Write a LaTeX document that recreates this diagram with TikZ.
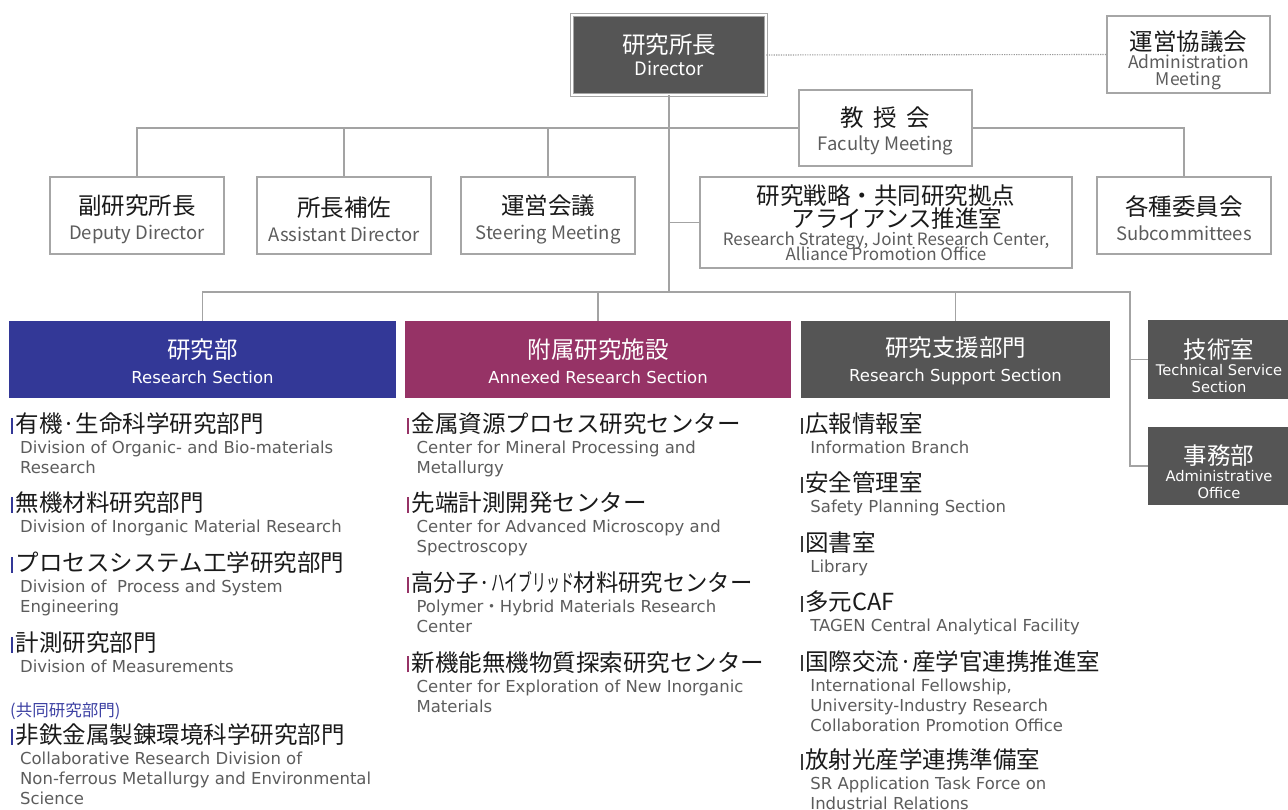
\documentclass[tikz,border=0pt]{standalone}
\usepackage{graphicx}
\usepackage{fontspec}
\setmainfont{Noto Sans CJK JP}
\newfontfamily\jpfont{Noto Sans CJK JP}
\newfontfamily\enfont{DejaVu Sans}

\definecolor{lineGray}{HTML}{A3A3A3}
\definecolor{boxGray}{HTML}{A6A6A6}
\definecolor{darkFill}{HTML}{555555}
\definecolor{rsBlue}{HTML}{333897}
\definecolor{arsMagenta}{HTML}{963366}
\definecolor{spBar}{HTML}{3A3A3A}
\definecolor{enGray}{HTML}{5C5C5C}
\definecolor{titleBlack}{HTML}{1A1A1A}
\definecolor{labelBlue}{HTML}{3D41A3}

\newcommand{\tightlines}{\lineskiplimit-20pt\relax}
\newcommand{\jpbig}[1]{{\jpfont\fontsize{23.5}{25}\selectfont #1}}
\newcommand{\topjp}[1]{\textcolor{titleBlack}{\jpbig{#1}}}
\newcommand{\itemhead}[3]{\rule{0pt}{22pt}\textcolor{#1}{\rule[-1pt]{#2}{16pt}}\hspace{2.3pt}\textcolor{titleBlack}{\jpbig{#3}}}

\tikzset{
  orgline/.style={draw=lineGray, line width=1.4pt},
  topbox/.style={draw=boxGray, line width=1.3pt, fill=white, inner sep=0pt,
    minimum width=174pt, minimum height=77pt, align=center, text=enGray,
    font=\fontsize{18.5}{25}\selectfont\tightlines},
  secbox/.style={fill=#1, inner sep=0pt, minimum height=77pt, align=center,
    text=white, font=\enfont\fontsize{16.5}{25}\selectfont},
  sidebox/.style={fill=darkFill, inner sep=0pt, minimum width=142pt,
    minimum height=78pt, align=center, text=white,
    font=\enfont\fontsize{14.7}{17}\selectfont\tightlines},
  listitem/.style={anchor=north west, inner sep=0pt, align=left, text=enGray,
    font=\enfont\fontsize{16.5}{20}\selectfont\tightlines},
}

\begin{document}
\begin{tikzpicture}[x=1pt,y=-1pt]
  \useasboundingbox (0,0) rectangle (1288,810);

  % top level
  \node[topbox, fill=darkFill, draw=boxGray, double=white, double distance=1.6pt,
    line width=0.9pt, minimum width=194pt, minimum height=80pt, text=white,
    font=\fontsize{18.5}{22}\selectfont\tightlines] (director) at (669,55)
    {\jpbig{研究所長}\\Director};
  \node[topbox, minimum width=163pt, font=\fontsize{17.5}{17.5}\selectfont\tightlines]
    (adminmtg) at (1188.5,54.5) {\rule{0pt}{32pt}\topjp{運営協議会}\\Administration\\Meeting};
  \node[topbox, minimum width=173pt, minimum height=76pt,
    font=\fontsize{18.5}{24}\selectfont] (faculty) at (885.5,128)
    {\rule{0pt}{26.5pt}\topjp{教\hspace{9.5pt}授\hspace{9.5pt}会}\\Faculty Meeting};

  % second row
  \node[topbox] (deputy) at (137,215.5) {\rule{0pt}{27pt}\topjp{副研究所長}\\Deputy Director};
  \node[topbox] (assistant) at (344,215.5) {\rule{0pt}{27pt}\topjp{所長補佐}\\Assistant Director};
  \node[topbox] (steering) at (548,215.5) {\rule{0pt}{27pt}\topjp{運営会議}\\Steering Meeting};
  \node[topbox, minimum width=372pt, minimum height=91pt,
    font=\fontsize{17}{15}\selectfont\tightlines] (strategy) at (886,222.5)
    {\topjp{研究戦略・共同研究拠点}\\[8pt]\hspace*{22pt}\topjp{アライアンス推進室}\\[3pt]
     Research Strategy, Joint Research Center,\hspace*{28pt}\\Alliance Promotion Office};
  \node[topbox] (subcomm) at (1184,215.5) {\rule{0pt}{25pt}\topjp{各種委員会}\\Subcommittees};

  % sections
  \node[secbox=rsBlue, minimum width=387pt] (research) at (202.5,359.5)
    {\rule{0pt}{23pt}\jpbig{研究部}\\Research Section};
  \node[secbox=arsMagenta, minimum width=386pt] (annexed) at (598,359.5)
    {\rule{0pt}{23pt}\jpbig{附属研究施設}\\Annexed Research Section};
  \node[secbox=darkFill, minimum width=309pt] (support) at (955.5,359.5)
    {\rule{0pt}{23pt}\jpbig{研究支援部門}\\Research Support Section};
  \node[sidebox] (technical) at (1219,359.5)
    {\rule{0pt}{33pt}\jpbig{技術室}\\Technical Service\\Section};
  \node[sidebox] (office) at (1219,466)
    {\rule{0pt}{31pt}\jpbig{事務部}\\Administrative\\Office};

  % connectors
  \coordinate (lowbus) at (669,292);
  \coordinate (sidebus) at (1130,292);
  \draw[draw=gray!80, line width=1.1pt, dash pattern=on 1.2pt off 1.2pt]
    (director.east) -- (adminmtg.west);
  \draw[orgline] (director.south) -- (lowbus);
  \draw[orgline] (deputy.north) |- (faculty.west);
  \draw[orgline] (subcomm.north) |- (faculty.east);
  \draw[orgline] (assistant.north) -- (assistant.north |- faculty.west);
  \draw[orgline] (steering.north) -- (steering.north |- faculty.west);
  \draw[orgline] (strategy.west) -- (strategy.west -| lowbus);
  \draw[orgline] (research.north) |- (sidebus) |- (office.west);
  \draw[orgline] (annexed.north) -- (annexed.north |- lowbus);
  \draw[orgline] (support.north) -- (support.north |- lowbus);
  \draw[orgline] (technical.west) -- (technical.west -| sidebus);

  % research section list
  \node[listitem] (rs1) at (10.8,410.5)
    {\itemhead{rsBlue}{2.4pt}{有機·生命科学研究部門}\\[1pt]
     \hspace*{9.1pt}Division of Organic- and Bio-materials\\
     \hspace*{9.1pt}Research};
  \node[listitem] (rs2) at (10.8,489.7)
    {\itemhead{rsBlue}{2.4pt}{無機材料研究部門}\\[1pt]
     \hspace*{9.1pt}Division of Inorganic Material Research};
  \node[listitem] (rs3) at (10.8,549.7)
    {\itemhead{rsBlue}{2.4pt}{プロセスシステム工学研究部門}\\[1pt]
     \hspace*{9.1pt}Division of \ Process and System\\
     \hspace*{9.1pt}Engineering};
  \node[listitem] (rs4) at (10.8,629.4)
    {\itemhead{rsBlue}{2.4pt}{計測研究部門}\\[1pt]
     \hspace*{9.1pt}Division of Measurements};
  \node[anchor=base west, inner sep=0pt, text=labelBlue,
    font=\fontsize{16.5}{20}\selectfont] (jointlabel) at (10,716.5) {(共同研究部門)};
  \node[listitem] (rs5) at (10.8,721.5)
    {\itemhead{rsBlue}{2.4pt}{非鉄金属製錬環境科学研究部門}\\[1pt]
     \hspace*{9.1pt}Collaborative Research Division of\\
     \hspace*{9.1pt}Non-ferrous Metallurgy and Environmental\\
     \hspace*{9.1pt}Science};

  % annexed research section list
  \node[listitem] (ar1) at (406.7,410.5)
    {\itemhead{arsMagenta}{2.4pt}{金属資源プロセス研究センター}\\[1pt]
     \hspace*{9.7pt}Center for Mineral Processing and\\
     \hspace*{9.7pt}Metallurgy};
  \node[listitem] (ar2) at (406.7,489.7)
    {\itemhead{arsMagenta}{2.4pt}{先端計測開発センター}\\[1pt]
     \hspace*{9.7pt}Center for Advanced Microscopy and\\
     \hspace*{9.7pt}Spectroscopy};
  \node[listitem] (ar3) at (406.7,569.7)
    {\itemhead{arsMagenta}{2.4pt}{\scalebox{0.95}[1]{高分子·\scalebox{0.62}[1]{ハイブリッド}材料研究センター}}\\[1pt]
     \hspace*{9.7pt}Polymer{\jpfont ・}Hybrid Materials Research\\
     \hspace*{9.7pt}Center};
  \node[listitem] (ar4) at (406.7,649.1)
    {\itemhead{arsMagenta}{2.4pt}{新機能無機物質探索研究センター}\\[1pt]
     \hspace*{9.7pt}Center for Exploration of New Inorganic\\
     \hspace*{9.7pt}Materials};

  % research support section list
  \node[listitem] (sp1) at (801,410.5)
    {\itemhead{spBar}{1.7pt}{広報情報室}\\[1pt]
     \hspace*{9.2pt}Information Branch};
  \node[listitem] (sp2) at (801,469.7)
    {\itemhead{spBar}{1.7pt}{安全管理室}\\[1pt]
     \hspace*{9.2pt}Safety Planning Section};
  \node[listitem] (sp3) at (801,529.1)
    {\itemhead{spBar}{1.7pt}{図書室}\\[1pt]
     \hspace*{9.2pt}Library};
  \node[listitem] (sp4) at (801,588.5)
    {\itemhead{spBar}{1.7pt}{多元CAF}\\[1pt]
     \hspace*{9.2pt}TAGEN Central Analytical Facility};
  \node[listitem] (sp5) at (801,648)
    {\itemhead{spBar}{1.7pt}{国際交流·産学官連携推進室}\\[1pt]
     \hspace*{9.2pt}International Fellowship,\\
     \hspace*{9.2pt}University-Industry Research\\
     \hspace*{9.2pt}Collaboration Promotion Office};
  \node[listitem] (sp6) at (801,746.4)
    {\itemhead{spBar}{1.7pt}{放射光産学連携準備室}\\[1pt]
     \hspace*{9.2pt}SR Application Task Force on\\
     \hspace*{9.2pt}Industrial Relations};
\end{tikzpicture}
\end{document}
